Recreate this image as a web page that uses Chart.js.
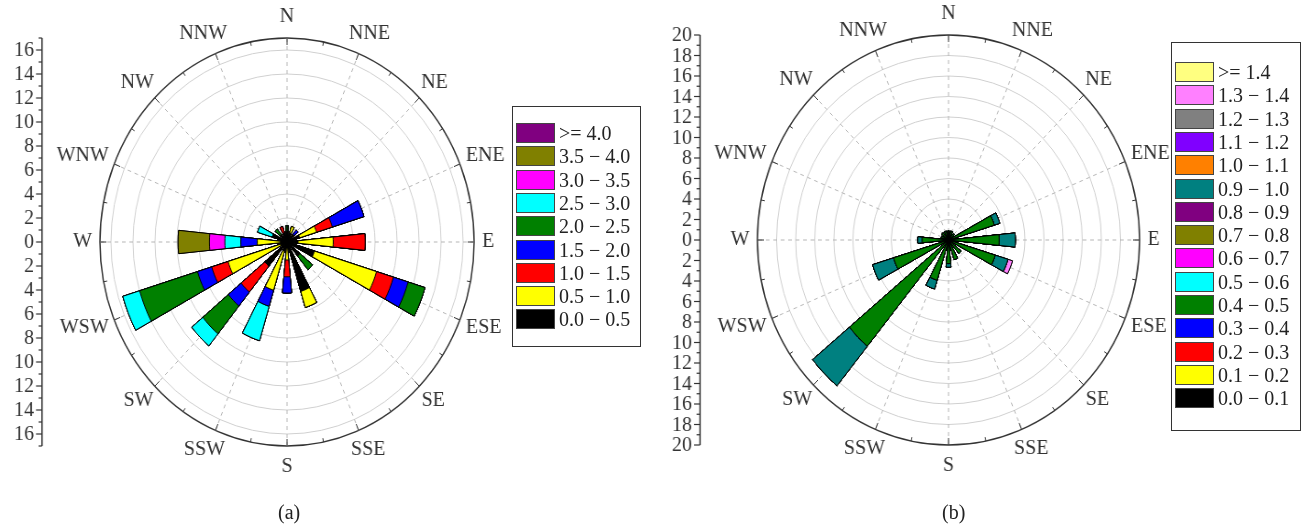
<!DOCTYPE html>
<html>
<head>
<meta charset="utf-8">
<script src="https://cdn.jsdelivr.net/npm/chart.js@4.4.1/dist/chart.umd.min.js"></script>
<style>
  body { margin: 0; background: #fff; font-family: "Liberation Serif", serif; }
  #page { position: relative; width: 1306px; height: 526px; overflow: hidden; }
  .panel { position: absolute; top: 0; transform-origin: 0 0; }
  .legend { position: absolute; border: 1.5px solid #333; box-sizing: border-box; }
  .sw { position: absolute; width: 39px; height: 20px; border: 1px solid #444; box-sizing: border-box; }
  .lab { position: absolute; font-size: 20px; line-height: 20px; color: #222; white-space: nowrap; }
  .cap { position: absolute; font-size: 20px; color: #222; }
</style>
</head>
<body>
<div id="page">
  <div class="panel" id="panelA"><canvas id="roseA" width="560" height="526" style="width:560px;height:526px"></canvas></div>
  <div class="legend" id="legendA" style="left:512px;top:106px;width:129px;height:241px"></div>
  <div class="panel" id="panelB" style="left:640px"><canvas id="roseB" width="570" height="526" style="width:570px;height:526px"></canvas></div>
  <div class="legend" id="legendB" style="left:1171px;top:42px;width:130px;height:389px"></div>
  <div class="cap" style="left:278px;top:501px">(a)</div>
  <div class="cap" style="left:942px;top:501px">(b)</div>
</div>
<script>
const dirLabels = ['N', 'NNE', 'NE', 'ENE', 'E', 'ESE', 'SE', 'SSE', 'S', 'SSW', 'SW', 'WSW', 'W', 'WNW', 'NW', 'NNW'];

// (a) frequency (%) per speed class, same order as dirLabels
const binLabelsA = ['0.0 − 0.5', '0.5 − 1.0', '1.0 − 1.5', '1.5 − 2.0', '2.0 − 2.5', '2.5 − 3.0', '3.0 − 3.5', '3.5 − 4.0', '>= 4.0'];
const binColorsA = ['#000000', '#ffff00', '#ff0000', '#0000ff', '#008000', '#00ffff', '#ff00ff', '#808000', '#800080'];
const a00_05 = [0.8, 0.8, 0.8, 1.2, 1.0, 2.6, 1.5, 4.3, 0.5, 0.8, 2.6, 0.6, 0.6, 1.4, 0.8, 0.8];
const a05_10 = [0, 0.55, 0, 1.6, 3.2, 5.9, 0, 1.4, 1.0, 3.4, 0, 5.0, 2.1, 0, 0, 0];
const a10_15 = [0, 0, 0, 1.5, 2.9, 1.6, 0, 0, 1.4, 0, 2.8, 1.55, 0, 0, 0, 0.55];
const a15_20 = [0, 0, 0.5, 3.0, 0, 1.4, 0, 0, 1.35, 1.4, 1.5, 1.35, 1.5, 0, 0, 0];
const a20_25 = [0.55, 0, 0, 0, 0, 1.6, 1.5, 0, 0, 0, 3.0, 5.5, 0, 0, 0.6, 0];
const a25_30 = [0, 0, 0, 0, 0, 0, 0, 0, 0, 3.0, 1.3, 1.6, 1.45, 1.4, 0, 0];
const a30_35 = [0, 0, 0, 0, 0, 0, 0, 0, 0, 0, 0, 0, 1.4, 0, 0, 0];
const a35_40 = [0, 0, 0, 0, 0, 0, 0, 0, 0, 0, 0, 0, 2.85, 0, 0, 0];
const a40_up = [0, 0, 0, 0, 0, 0, 0, 0, 0, 0, 0, 0, 0, 0, 0, 0];
const gridA = [0, 2, 4, 6, 8, 10, 12, 14, 16, 17];
const axisMajorA = [0, 2, 4, 6, 8, 10, 12, 14, 16];
const axisMinorA = [1, 3, 5, 7, 9, 11, 13, 15, 17];

// (b)
const binLabelsB = ['0.0 − 0.1', '0.1 − 0.2', '0.2 − 0.3', '0.3 − 0.4', '0.4 − 0.5', '0.5 − 0.6', '0.6 − 0.7', '0.7 − 0.8',
  '0.8 − 0.9', '0.9 − 1.0', '1.0 − 1.1', '1.1 − 1.2', '1.2 − 1.3', '1.3 − 1.4', '>= 1.4'];
const binColorsB = ['#000000', '#ffff00', '#ff0000', '#0000ff', '#008000', '#00ffff', '#ff00ff', '#808000',
  '#800080', '#008080', '#ff8000', '#8000ff', '#808080', '#ff80ff', '#ffff80'];
const b00_01 = [0.3, 0.3, 0.3, 0.3, 0.3, 0.3, 0.3, 0.3, 0.3, 0.3, 0.3, 0.3, 0.3, 0.3, 0.3, 0.3];
const b01_02 = [0, 0, 0, 0, 0, 0, 0, 0, 0, 0, 0, 0, 0, 0, 0, 0];
const b02_03 = [0, 0, 0, 0, 0, 0, 0, 0, 0, 0, 0, 0, 0, 0, 0, 0];
const b03_04 = [0, 0, 0, 0, 0, 0, 0, 0, 0, 0, 0, 0, 0, 0, 0, 0];
const b04_05 = [0.6, 0.6, 0.5, 4.7, 5.0, 4.8, 1.4, 1.7, 2.0, 3.8, 13.1, 5.7, 2.46, 0.5, 0.6, 0.6];
const b05_06 = [0, 0, 0, 0, 0, 0, 0, 0, 0, 0, 0, 0, 0, 0, 0, 0];
const b06_07 = [0, 0, 0, 0, 0, 0, 0, 0, 0, 0, 0, 0, 0, 0, 0, 0];
const b07_08 = [0, 0, 0, 0, 0, 0, 0, 0, 0, 0, 0, 0, 0, 0, 0, 0];
const b08_09 = [0, 0, 0, 0, 0, 0, 0, 0, 0, 0, 0, 0, 0, 0, 0, 0];
const b09_10 = [0, 0, 0, 0.6, 1.7, 1.4, 0, 0, 0.35, 0.9, 5.0, 2.3, 0.46, 0, 0, 0];
const b10_11 = [0, 0, 0, 0, 0, 0, 0, 0, 0, 0, 0, 0, 0, 0, 0, 0];
const b11_12 = [0, 0, 0, 0, 0, 0, 0, 0, 0, 0, 0, 0, 0, 0, 0, 0];
const b12_13 = [0, 0, 0, 0, 0, 0, 0, 0, 0, 0, 0, 0, 0, 0, 0, 0];
const b13_14 = [0, 0, 0, 0, 0, 0.5, 0, 0, 0, 0, 0, 0, 0, 0, 0, 0];
const b14_up = [0, 0, 0, 0, 0, 0, 0, 0, 0, 0, 0, 0, 0, 0, 0, 0];
const gridB = [0, 2, 4, 6, 8, 10, 12, 14, 16, 18, 20];
const axisMajorB = [0, 2, 4, 6, 8, 10, 12, 14, 16, 18, 20];
const axisMinorB = [1, 3, 5, 7, 9, 11, 13, 15, 17, 19];

// each direction gets a half-width wedge; N is split in two halves so arcs start at north
const arcAngles = [5.625];
for (let i = 0; i < 31; i++) arcAngles.push(11.25);
arcAngles.push(5.625);

function roseDatasets(bins, colors) {
    const cum = dirLabels.map(() => 0);
    return bins.map((vals, j) => {
        vals.forEach((v, k) => cum[k] += v);
        const data = [];
        cum.forEach(c => { data.push(c); data.push(0); });
        data.push(cum[0]);
        return {
            data: data,
            backgroundColor: colors[j],
            borderColor: '#000',
            borderWidth: ctx => (ctx.raw > 0 ? 1 : 0),
            angle: arcAngles
        };
    });
}

const roseDecor = {
    id: 'roseDecor',
    afterDraw(chart, args, opts) {
        const r = chart.scales.r;
        const ctx = chart.ctx;
        const R = r.getDistanceFromCenterForValue(r.max);
        const sx = opts.sx;
        ctx.save();
        ctx.strokeStyle = '#333';
        ctx.lineWidth = 1;
        // ticks on the outer ring
        for (let i = 0; i < dirLabels.length; i++) {
            [[0, 7], [Math.PI / 16, 4]].forEach(([extra, len]) => {
                const p = r.getPointPosition(i, R, extra);
                const q = r.getPointPosition(i, R - len, extra);
                ctx.beginPath();
                ctx.moveTo(p.x, p.y);
                ctx.lineTo(q.x, q.y);
                ctx.stroke();
            });
        }
        // direction names
        ctx.font = '20px "Liberation Serif"';
        ctx.fillStyle = '#333';
        ctx.textAlign = 'center';
        ctx.textBaseline = 'middle';
        dirLabels.forEach((lab, i) => {
            const a = r.getIndexAngle(i);
            const w = ctx.measureText(lab).width;
            const x = r.xCenter + Math.sin(a) * (R + (8 + w / 2) / sx);
            const y = r.yCenter - Math.cos(a) * (R + 21);
            ctx.save();
            ctx.translate(x, y);
            ctx.scale(1 / sx, 1);
            ctx.fillText(lab, 0, 0);
            ctx.restore();
        });
        // vertical radius axis on the left
        const x0 = opts.axisX;
        ctx.lineWidth = 1.5;
        ctx.beginPath();
        ctx.moveTo(x0, r.yCenter - R);
        ctx.lineTo(x0, r.yCenter + R);
        ctx.stroke();
        ctx.lineWidth = 1.2;
        ctx.textAlign = 'right';
        opts.major.forEach(v => {
            const d = r.getDistanceFromCenterForValue(v);
            [-1, 1].forEach(s => {
                if (v === 0 && s === 1) return;
                const y = r.yCenter + s * d;
                ctx.beginPath();
                ctx.moveTo(x0, y);
                ctx.lineTo(x0 - 6 / sx, y);
                ctx.stroke();
                ctx.save();
                ctx.translate(x0 - 8 / sx, y);
                ctx.scale(1 / sx, 1);
                ctx.fillText(String(v), 0, 1);
                ctx.restore();
            });
        });
        opts.minor.forEach(v => {
            const d = r.getDistanceFromCenterForValue(v);
            [-1, 1].forEach(s => {
                const y = r.yCenter + s * d;
                ctx.beginPath();
                ctx.moveTo(x0, y);
                ctx.lineTo(x0 - 3.5 / sx, y);
                ctx.stroke();
            });
        });
        ctx.restore();
    }
};

function makeRose(id, bins, colors, max, gridVals, major, minor, pad, axisX, sx) {
    document.getElementById(id).parentNode.style.transform = 'scaleX(' + sx + ')';
    return new Chart(document.getElementById(id), {
        type: 'polarArea',
        data: { labels: dirLabels, datasets: roseDatasets(bins, colors) },
        options: {
            responsive: false,
            animation: false,
            layout: { padding: pad },
            plugins: {
                legend: { display: false },
                tooltip: { enabled: false },
                roseDecor: { sx: sx, axisX: axisX, major: major, minor: minor }
            },
            scales: {
                r: {
                    min: 0,
                    max: max,
                    startAngle: 0,
                    afterBuildTicks: axis => { axis.ticks = gridVals.map(v => ({ value: v })); },
                    ticks: { display: false },
                    grid: {
                        circular: true,
                        color: c => (c.tick && c.tick.value === max ? '#333' : '#d0d0d0'),
                        lineWidth: c => (c.tick && c.tick.value === max ? 1.5 : 1)
                    },
                    angleLines: { display: true, color: '#b5b5b5', lineWidth: 1, borderDash: [4, 4] },
                    pointLabels: { display: false }
                }
            }
        },
        plugins: [roseDecor]
    });
}

function buildLegend(id, labels, colors, top0) {
    const box = document.getElementById(id);
    for (let j = labels.length - 1, row = 0; j >= 0; j--, row++) {
        const sw = document.createElement('div');
        sw.className = 'sw';
        sw.style.left = '3px';
        sw.style.top = (top0 + row * 23.3) + 'px';
        sw.style.background = colors[j];
        box.appendChild(sw);
        const t = document.createElement('div');
        t.className = 'lab';
        t.style.left = '46px';
        t.style.top = (top0 + row * 23.3) + 'px';
        t.textContent = labels[j];
        box.appendChild(t);
    }
}

makeRose('roseA', [a00_05, a05_10, a10_15, a15_20, a20_25, a25_30, a30_35, a35_40, a40_up], binColorsA,
    17, gridA, axisMajorA, axisMinorA, { left: 109, right: 43, top: 38, bottom: 80 }, 45.8, 0.917);
makeRose('roseB', [b00_01, b01_02, b02_03, b03_04, b04_05, b05_06, b06_07, b07_08, b08_09, b09_10, b10_11, b11_12, b12_13, b13_14, b14_up],
    binColorsB, 20, gridB, axisMajorB, axisMinorB, { left: 126, right: 34, top: 35, bottom: 81 }, 64.4, 0.932);

buildLegend('legendA', binLabelsA, binColorsA, 16);
buildLegend('legendB', binLabelsB, binColorsB, 19);
</script>
</body>
</html>
